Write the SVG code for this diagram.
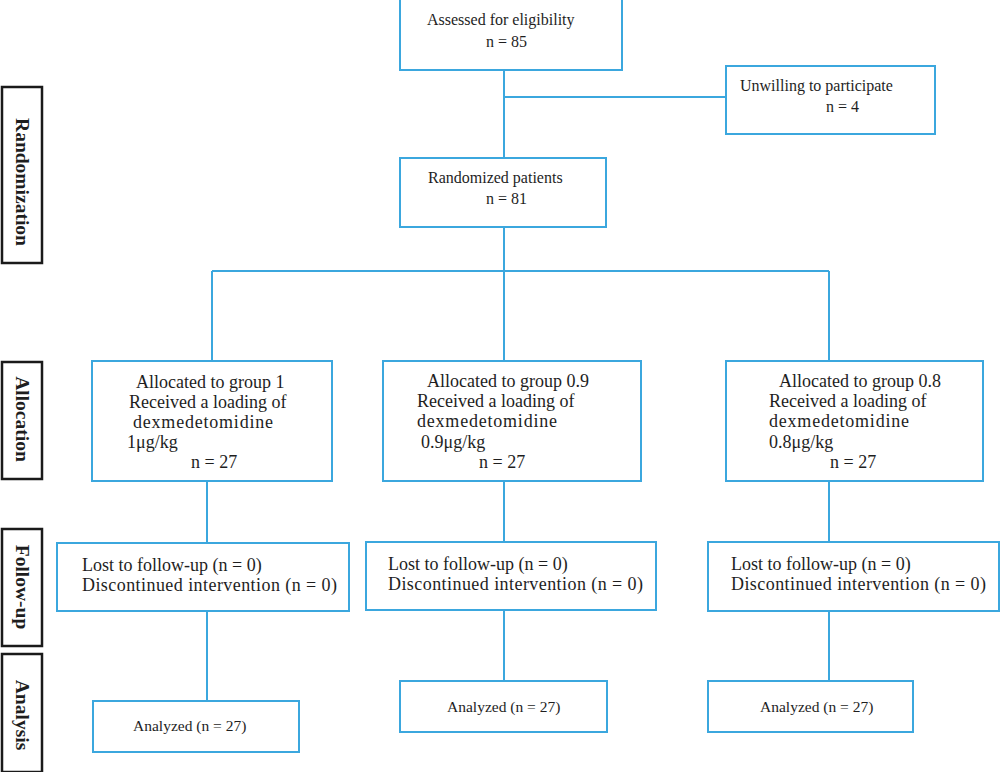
<svg xmlns="http://www.w3.org/2000/svg" width="1000" height="772" viewBox="0 0 1000 772">
<style>
.box{fill:#fff;stroke:#3ba7de;stroke-width:2}
.lab{fill:#fff;stroke:#1a1a1a;stroke-width:2.5}
.con{fill:none;stroke:#3ba7de;stroke-width:2}
text{font-family:"Liberation Serif","Times New Roman",serif;fill:#1e1e1e}
.t16{font-size:16px}
.t18{font-size:18px}
.t15{font-size:15.5px}
.lt{font-size:19.5px;font-weight:bold;text-anchor:middle;dominant-baseline:central}
</style>
<rect width="1000" height="772" fill="#fff"/>
<g id="connectors">
<path class="con" d="M504,70 V158 M504,97 H726 M504,227 V361 M212,271 H829 M212,271 V361 M829,271 V361"/>
<path class="con" d="M207,481 V543 M207,611 V701 M504,481 V542 M504,610 V681 M829,481 V542 M829,611 V681"/>
</g>
<g id="label-randomization"><rect class="lab" x="2" y="87" width="40" height="176"/><text class="lt" transform="translate(22,182) rotate(90)">Randomization</text></g>
<g id="label-allocation"><rect class="lab" x="2" y="362" width="40" height="117"/><text class="lt" transform="translate(22,419) rotate(90)">Allocation</text></g>
<g id="label-followup"><rect class="lab" x="2" y="529" width="40" height="117"/><text class="lt" transform="translate(22,587) rotate(90)">Follow-up</text></g>
<g id="label-analysis"><rect class="lab" x="2" y="654" width="40" height="118"/><text class="lt" transform="translate(22,715) rotate(90)">Analysis</text></g>
<g id="assessed"><rect class="box" x="400" y="-2" width="222" height="72"/><text class="t16" x="427" y="25">Assessed for eligibility</text><text class="t16" x="486" y="47">n = 85</text></g>
<g id="unwilling"><rect class="box" x="726" y="66" width="209" height="68"/><text class="t16" x="740" y="91">Unwilling to participate</text><text class="t16" x="826" y="112">n = 4</text></g>
<g id="randomized"><rect class="box" x="400" y="158" width="206" height="69"/><text class="t16" x="428" y="183">Randomized patients</text><text class="t16" x="486" y="204">n = 81</text></g>
<g id="alloc1"><rect class="box" x="92" y="361" width="240" height="120"/>
<text class="t18" x="136" y="388">Allocated to group 1</text>
<text class="t18" x="129" y="408">Received a loading of</text>
<text class="t18" x="133" y="428" textLength="140">dexmedetomidine</text>
<text class="t18" x="127" y="448">1μg/kg</text>
<text class="t18" x="191" y="468">n = 27</text></g>
<g id="alloc09"><rect class="box" x="383" y="361" width="258" height="120"/>
<text class="t18" x="427" y="387">Allocated to group 0.9</text>
<text class="t18" x="417" y="407">Received a loading of</text>
<text class="t18" x="417" y="427" textLength="140">dexmedetomidine</text>
<text class="t18" x="421" y="448">0.9μg/kg</text>
<text class="t18" x="479" y="468">n = 27</text></g>
<g id="alloc08"><rect class="box" x="726" y="361" width="257" height="120"/>
<text class="t18" x="779" y="387">Allocated to group 0.8</text>
<text class="t18" x="769" y="407">Received a loading of</text>
<text class="t18" x="769" y="427" textLength="140">dexmedetomidine</text>
<text class="t18" x="769" y="448">0.8μg/kg</text>
<text class="t18" x="830" y="468">n = 27</text></g>
<g id="follow1"><rect class="box" x="57" y="543" width="292" height="68"/>
<text class="t18" x="82" y="571">Lost to follow-up (n = 0)</text>
<text class="t18" x="82" y="591" textLength="255">Discontinued intervention (n = 0)</text></g>
<g id="follow09"><rect class="box" x="366" y="542" width="290" height="68"/>
<text class="t18" x="388" y="570">Lost to follow-up (n = 0)</text>
<text class="t18" x="388" y="590" textLength="255">Discontinued intervention (n = 0)</text></g>
<g id="follow08"><rect class="box" x="708" y="542" width="291" height="69"/>
<text class="t18" x="731" y="570">Lost to follow-up (n = 0)</text>
<text class="t18" x="731" y="590" textLength="255">Discontinued intervention (n = 0)</text></g>
<g id="analysis1"><rect class="box" x="93" y="701" width="206" height="51"/><text class="t15" x="133" y="731">Analyzed (n = 27)</text></g>
<g id="analysis09"><rect class="box" x="400" y="681" width="207" height="51"/><text class="t15" x="447" y="712">Analyzed (n = 27)</text></g>
<g id="analysis08"><rect class="box" x="708" y="681" width="205" height="51"/><text class="t15" x="760" y="712">Analyzed (n = 27)</text></g>
</svg>
